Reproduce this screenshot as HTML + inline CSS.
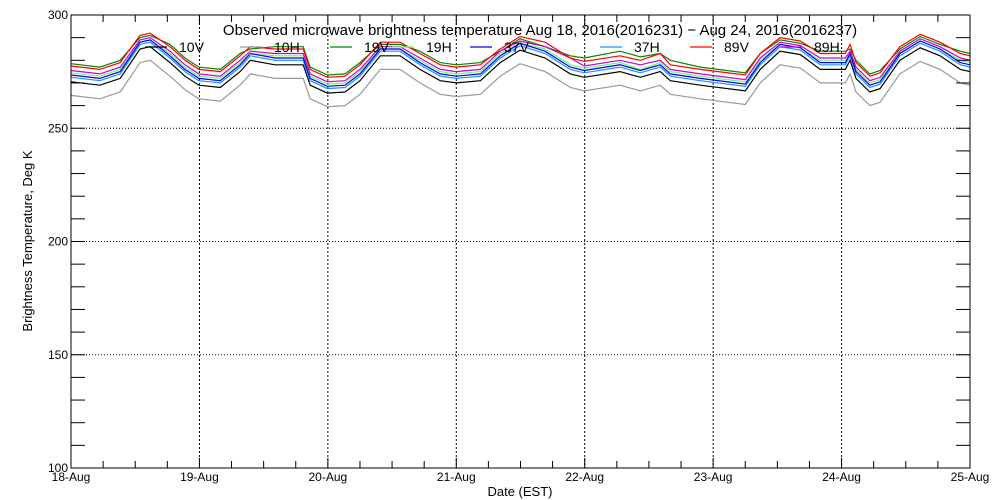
<!DOCTYPE html>
<html><head><meta charset="utf-8"><style>
html,body{margin:0;padding:0;background:#fff;}
svg{display:block;font-family:"Liberation Sans",sans-serif;}
</style></head><body>
<svg id="chart" width="1000" height="500" viewBox="0 0 1000 500" xmlns="http://www.w3.org/2000/svg">
<g id="grid"></g>
<g id="series"></g>
<g id="axes"></g>
<text x="540" y="35" font-size="15" text-anchor="middle">Observed microwave brightness temperature Aug 18, 2016(2016231) − Aug 24, 2016(2016237)</text>
<g id="legend"></g>
<text x="520" y="496" font-size="13" text-anchor="middle">Date (EST)</text>
<text x="0" y="0" font-size="13" text-anchor="middle" transform="translate(32,241) rotate(-90)">Brightness Temperature, Deg K</text>
</svg>
<script>
const hours = [0,5.4,9.2,12.9,14.8,18.5,21.3,23.9,27.9,31.6,33.5,38.1,43.4,44.7,47.9,51.2,54.0,57.8,61.5,65.2,69.0,72.0,76.5,80.2,83.9,88.6,93.3,95.9,102.6,106.4,110.1,112.0,117.6,126.0,128.8,132.5,136.3,140.0,144.7,145.6,146.7,149.3,151.2,154.9,158.7,162.4,166.2,168];
const t10V = [270.5,269,272,285,286,279,273,269,268,275,280,278,278,269,265.5,266,271,282,282,276,271,270,271,279,284.5,281,274,272.5,275,272.5,275,271,269,266.5,276,284,282.5,276,276,280,272,266,267.5,280,285.5,282,276,275];
const t10H = [264.5,263,266,279,280,273,267,263,262,269,274,272,272,263,259.5,260,265,276,276,270,265,264,265,273,278.5,275,268,266.5,269,266.5,269,265,263,260.5,270,278,276.5,270,270,274,266,260,261.5,274,279.5,276,270,269];
const t19V = [278.5,277,280,290,291,287,281,277,276,283,285,286,286,277,273.5,274,279,287,287,284,279,278,279,284,289.5,286,282,281,284,281.5,283,280,277,274.5,283,289,287.5,284,284,285,280,274,275.5,285,290.5,287,284,283];
const t19H = [274.5,273,276,288,289,283,277,273,272,279,283,282,282,273,269.5,270,275,285,285,280,275,274,275,283,287.5,285,278,276.5,279,276,279,275,273,270.5,280,287,285.5,280,280,283,276,270,271.5,283,288.5,285,280,279];
const t37V = [273.5,272,275,288,289,282,276,272,271,278,283,281,281,272,268.5,269,274,285,285,279,274,273,274,282,287.5,284,277,275.5,278,275.5,278,274,272,269.5,279,287,285.5,279,279,283,275,269,270.5,283,288.5,285,279,278];
const t37H = [272.5,271,274,287,288,281,275,271,270,277,282,280,280,271,267.5,268,273,284,284,278,273,272,273,281,286.5,283,276,274.5,277,274.5,277,273,271,268.5,278,286,284.5,278,278,282,274,268,269.5,282,287.5,284,278,277];
const t89V = [277.5,276,279,291,292,286,280,276,275,282,286,285,285,276,272.5,273,278,288,288,283,278,277,278,285,290.5,288,281,279.5,282,280,283,278,276,273.5,283,290,288.5,283,283,287,279,273,274.5,286,291.5,288,283,282];
const t89H = [275.5,274,277,289,290,284,278,274,273,280,284,283,283,274,270.5,271,276,286,286,281,276,275,276,284,288.5,286,281,277.5,280,278,280,276,274,271.5,281,288,286.5,281,281,284,277,271,272.5,284,289.5,286,281,280];
const dayLabels = ["18-Aug","19-Aug","20-Aug","21-Aug","22-Aug","23-Aug","24-Aug","25-Aug"];
const yTicks = [100,150,200,250,300];

const NS="http://www.w3.org/2000/svg";
const X0=71,X1=970,Y0=15,Y1=468,HMAX=168,TMIN=100,TMAX=300;
const xs=h=>X0+(X1-X0)*h/HMAX;
const ys=t=>Y1-(Y1-Y0)*(t-TMIN)/(TMAX-TMIN);
function mk(tag,attrs,parent){const e=document.createElementNS(NS,tag);for(const k in attrs)e.setAttribute(k,attrs[k]);parent.appendChild(e);return e;}
const grid=document.getElementById('grid'),axes=document.getElementById('axes'),ser=document.getElementById('series'),leg=document.getElementById('legend');

yTicks.forEach(v=>{if(v>TMIN&&v<TMAX){const l=mk('line',{x1:X0,x2:X1,y1:ys(v),y2:ys(v),stroke:'#000','stroke-dasharray':'1,2'},grid);

}});
dayLabels.forEach((d,i)=>{const x=xs(i*24);if(i>0&&i<dayLabels.length-1){const l=mk('line',{x1:x,x2:x,y1:Y0,y2:Y1,stroke:'#000','stroke-dasharray':'2,2'},grid);

}});

const series=[["10V",t10V,"#000000"],["10H",t10H,"#999999"],["19V",t19V,"#008800"],["19H",t19H,"#66ff66"],["37V",t37V,"#0000ff"],["37H",t37H,"#1e90ff"],["89V",t89V,"#ff0000"],["89H",t89H,"#cc00cc"]];
const order=[1,0,3,5,4,2,7,6];
order.forEach(i=>{const s=series[i];const d=s[1].map((v,j)=>(j?'L':'M')+xs(hours[j]).toFixed(1)+','+ys(v).toFixed(1)).join('');
const p=mk('path',{d:d,fill:'none',stroke:s[2],'stroke-width':1.2},ser);

});

const fr=mk('rect',{x:X0,y:Y0,width:X1-X0,height:Y1-Y0,fill:'none',stroke:'#000','stroke-width':1},axes);


for(let v=TMIN;v<=TMAX;v+=10){const y=ys(v);const len=14;
mk('line',{x1:X0,x2:X0+len,y1:y,y2:y,stroke:'#000'},axes);mk('line',{x1:X1,x2:X1-len,y1:y,y2:y,stroke:'#000'},axes);}
yTicks.forEach(v=>{const t=mk('text',{x:X0-3,y:ys(v)+4,'font-size':12,'text-anchor':'end'},axes);t.textContent=v;

});
for(let h=0;h<=HMAX;h+=6){const x=xs(h);const len=(h%24===0)?10:7;
mk('line',{x1:x,x2:x,y1:Y1,y2:Y1-len,stroke:'#000'},axes);mk('line',{x1:x,x2:x,y1:Y0,y2:Y0+len,stroke:'#000'},axes);}
dayLabels.forEach((d,i)=>{const t=mk('text',{x:xs(i*24),y:481,'font-size':12,'text-anchor':'middle'},axes);t.textContent=d;

});

const legX=[145,240,330,392,470,600,690,780];
series.forEach((s,i)=>{const g=mk('g',{},leg);


mk('line',{x1:legX[i],x2:legX[i]+22,y1:47,y2:47,stroke:s[2],'stroke-width':1.2},g);
const t=mk('text',{x:legX[i]+34,y:52,'font-size':14},g);t.textContent=s[0];});
</script>
</body></html>
